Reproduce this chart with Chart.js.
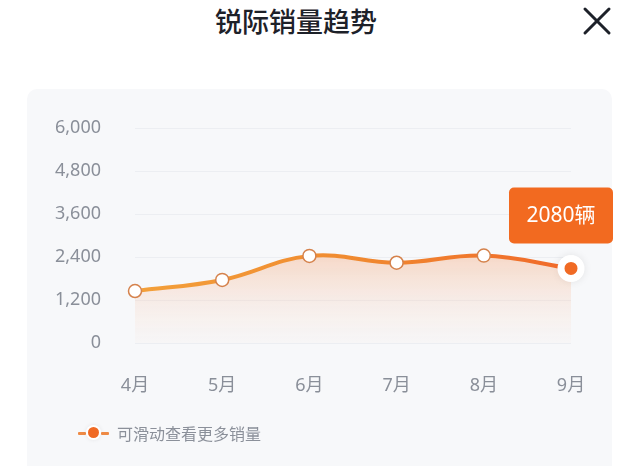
<!DOCTYPE html>
<html>
<head>
<meta charset="utf-8">
<script src="https://cdn.jsdelivr.net/npm/chart.js@4.4.1/dist/chart.umd.min.js"></script>
<style>
    html, body {
        margin: 0;
        padding: 0;
        background: #ffffff;
        width: 641px;
        height: 466px;
        overflow: hidden;
        font-family: "Noto Sans", "Noto Sans CJK SC", sans-serif;
    }
    .title {
        position: absolute;
        left: 0;
        width: 592px;
        top: 2px;
        text-align: center;
        font-family: "Noto Sans CJK SC", sans-serif;
        font-size: 27px;
        font-weight: 500;
        color: #1d2129;
        line-height: 38px;
    }
    .close {
        position: absolute;
        left: 582px;
        top: 6px;
    }
    .panel {
        position: absolute;
        left: 27px;
        top: 89px;
        width: 585px;
        height: 420px;
        border-radius: 10px;
        background: #f7f8fa;
    }
    #salesChart {
        position: absolute;
        left: 0;
        top: 0;
    }
    .hint {
        position: absolute;
        left: 78px;
        top: 421px;
        height: 24px;
        display: flex;
        align-items: center;
        font-family: "Noto Sans CJK SC", sans-serif;
        font-size: 16px;
        color: #8b909a;
    }
    .hint-icon {
        position: relative;
        width: 31px;
        height: 12px;
        margin-right: 8px;
    }
    .hint-icon .dash {
        position: absolute;
        top: 5px;
        width: 8px;
        height: 3px;
        border-radius: 1px;
        background: #ee8a45;
    }
    .hint-icon .dot {
        position: absolute;
        left: 10px;
        top: 0;
        width: 11px;
        height: 11px;
        border-radius: 50%;
        background: #f06a24;
        box-shadow: 0 0 0 2px #ffffff, 0 0 4px 2px rgba(0, 0, 0, 0.08);
    }
</style>
</head>
<body>
<div class="title">锐际销量趋势</div>
<svg class="close" width="30" height="30" viewBox="0 0 30 30">
    <line x1="3" y1="3" x2="27" y2="27" stroke="#1d2129" stroke-width="3" stroke-linecap="round"/>
    <line x1="27" y1="3" x2="3" y2="27" stroke="#1d2129" stroke-width="3" stroke-linecap="round"/>
</svg>
<div class="panel"></div>
<canvas id="salesChart" width="641" height="466"></canvas>
<div class="hint">
    <div class="hint-icon">
        <span class="dash" style="left:0"></span>
        <span class="dot"></span>
        <span class="dash" style="left:23px"></span>
    </div>
    可滑动查看更多销量
</div>

<script>
// values
const months = ["4月", "5月", "6月", "7月", "8月", "9月"];
const sales = [1450, 1760, 2430, 2240, 2440, 2080];
const yTicks = [0, 1200, 2400, 3600, 4800, 6000];
const unit = "辆";

const lastIndex = sales.length - 1;
const tickFont = { family: "'Noto Sans', 'Noto Sans CJK SC', sans-serif", size: 18 };

function lineGradient(context) {
    const area = context.chart.chartArea;
    if (!area) return "#f07a2c";
    const g = context.chart.ctx.createLinearGradient(area.left, 0, area.right, 0);
    g.addColorStop(0, "#f3a03a");
    g.addColorStop(0.5, "#f08a30");
    g.addColorStop(1, "#f0692a");
    return g;
}

function fillGradient(context) {
    const area = context.chart.chartArea;
    if (!area) return "rgba(243,140,90,0.2)";
    const g = context.chart.ctx.createLinearGradient(0, area.top + 120, 0, area.bottom);
    g.addColorStop(0, "rgba(245, 165, 115, 0.42)");
    g.addColorStop(0.5, "rgba(247, 185, 150, 0.22)");
    g.addColorStop(1, "rgba(250, 215, 195, 0.06)");
    return g;
}

// bubble with the latest value above the last point
const lastValueLabel = {
    id: "lastValueLabel",
    afterDatasetsDraw(chart) {
        const meta = chart.getDatasetMeta(0);
        const pt = meta.data[lastIndex];
        if (!pt) return;
        const ctx = chart.ctx;
        const x = pt.x - 62;
        const y = pt.y - 81;
        const w = 104;
        const h = 56;
        ctx.save();
        ctx.fillStyle = "#f26a20";
        ctx.beginPath();
        ctx.roundRect(x, y, w, h, 5);
        ctx.fill();
        ctx.fillStyle = "#ffffff";
        ctx.font = "21px 'Noto Sans', 'Noto Sans CJK SC', sans-serif";
        ctx.textAlign = "center";
        ctx.textBaseline = "middle";
        ctx.fillText(sales[lastIndex] + unit, x + w / 2, y + h / 2 + 1);
        ctx.restore();
    },
    beforeDatasetsDraw(chart) {
        // soft shadow behind the halo of the last point
        const pt = chart.getDatasetMeta(0).data[lastIndex];
        if (!pt) return;
        const ctx = chart.ctx;
        ctx.save();
        ctx.shadowColor = "rgba(0, 0, 0, 0.10)";
        ctx.shadowBlur = 8;
        ctx.fillStyle = "#ffffff";
        ctx.beginPath();
        ctx.arc(pt.x, pt.y, 13, 0, Math.PI * 2);
        ctx.fill();
        ctx.restore();
    },
};

const radii = sales.map((v, i) => (i === lastIndex ? 10 : 6.5));
const bgColors = sales.map((v, i) => (i === lastIndex ? "#f06a24" : "#ffffff"));
const borderColors = sales.map((v, i) => (i === lastIndex ? "#ffffff" : "#d5824c"));
const borderWidths = sales.map((v, i) => (i === lastIndex ? 7 : 1.5));

new Chart(document.getElementById("salesChart"), {
    type: "line",
    data: {
        labels: months,
        datasets: [{
            data: sales,
            borderColor: lineGradient,
            borderWidth: 4,
            backgroundColor: fillGradient,
            fill: "origin",
            tension: 0.4,
            pointRadius: radii,
            pointBackgroundColor: bgColors,
            pointBorderColor: borderColors,
            pointBorderWidth: borderWidths,
        }],
    },
    options: {
        responsive: false,
        animation: false,
        layout: {
            padding: { left: 0, right: 70, top: 128, bottom: 63 },
        },
        plugins: {
            legend: { display: false },
            tooltip: { enabled: false },
        },
        scales: {
            x: {
                offset: false,
                grid: { display: false, drawTicks: false },
                border: { display: false },
                ticks: { color: "#8a8f99", font: tickFont, padding: 32, maxRotation: 0 },
                afterFit(scale) { scale.height = 60; },
            },
            y: {
                min: yTicks[0],
                max: yTicks[yTicks.length - 1],
                afterBuildTicks(scale) {
                    scale.ticks = yTicks.map(v => ({ value: v }));
                },
                grid: { color: "#eceef2", lineWidth: 1, drawTicks: false },
                border: { display: false },
                ticks: {
                    color: "#8a8f99",
                    font: tickFont,
                    padding: 34,
                    callback: v => v.toLocaleString("en-US"),
                },
                afterFit(scale) { scale.width = 135; },
            },
        },
    },
    plugins: [lastValueLabel],
});
</script>
</body>
</html>
